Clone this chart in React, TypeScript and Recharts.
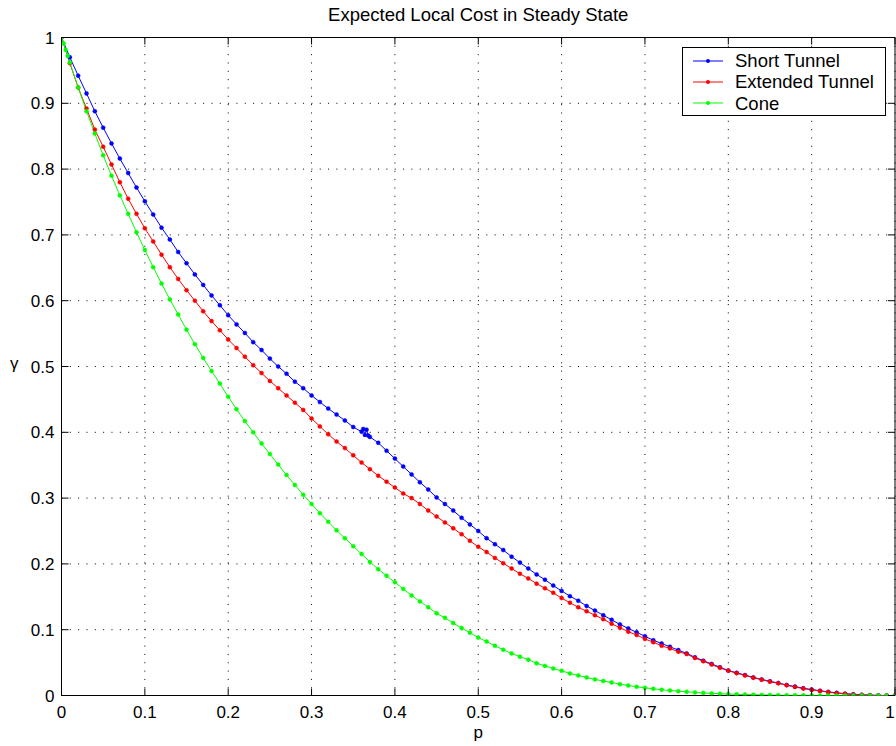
import React from 'react';
import { LineChart, Line, XAxis, YAxis, CartesianGrid, ReferenceArea } from 'recharts';

const BLUE = '#0000FF';
const RED = '#FF0000';
const GREEN = '#00FF00';
const FONT = '"Liberation Sans", Arial, Helvetica, sans-serif';

// p sample points (shared by all three series)
const P = [
  0, 0.01, 0.02, 0.03, 0.04, 0.05, 0.06, 0.07, 0.08, 0.09,
  0.1, 0.11, 0.12, 0.13, 0.14, 0.15, 0.16, 0.17, 0.18, 0.19,
  0.2, 0.21, 0.22, 0.23, 0.24, 0.25, 0.26, 0.27, 0.28, 0.29,
  0.3, 0.31, 0.32, 0.33, 0.34, 0.35, 0.36, 0.37, 0.38, 0.39,
  0.4, 0.41, 0.42, 0.43, 0.44, 0.45, 0.46, 0.47, 0.48, 0.49,
  0.5, 0.51, 0.52, 0.53, 0.54, 0.55, 0.56, 0.57, 0.58, 0.59,
  0.6, 0.61, 0.62, 0.63, 0.64, 0.65, 0.66, 0.67, 0.68, 0.69,
  0.7, 0.71, 0.72, 0.73, 0.74, 0.75, 0.76, 0.77, 0.78, 0.79,
  0.8, 0.81, 0.82, 0.83, 0.84, 0.85, 0.86, 0.87, 0.88, 0.89,
  0.9, 0.91, 0.92, 0.93, 0.94, 0.95, 0.96, 0.97, 0.98, 0.99, 1,
];

const SHORT_TUNNEL = [
  1.0, 0.970, 0.942, 0.915, 0.888, 0.863, 0.839, 0.816, 0.794, 0.772,
  0.751, 0.731, 0.711, 0.693, 0.674, 0.657, 0.640, 0.624, 0.608, 0.593,
  0.578, 0.564, 0.551, 0.537, 0.525, 0.512, 0.500, 0.489, 0.477, 0.467,
  0.456, 0.446, 0.436, 0.427, 0.418, 0.408, 0.401, 0.393, 0.384, 0.372,
  0.360, 0.348, 0.336, 0.324, 0.313, 0.301, 0.291, 0.281, 0.270, 0.260,
  0.250, 0.239, 0.230, 0.221, 0.211, 0.202, 0.193, 0.184, 0.176, 0.167,
  0.159, 0.151, 0.144, 0.136, 0.129, 0.122, 0.115, 0.108, 0.102, 0.096,
  0.090, 0.084, 0.079, 0.074, 0.069, 0.064, 0.058, 0.053, 0.048, 0.043,
  0.038, 0.0345, 0.031, 0.0275, 0.0245, 0.0215, 0.019, 0.016, 0.0135, 0.011,
  0.009, 0.0072, 0.0055, 0.004, 0.0028, 0.0018, 0.001, 0.0005, 0.0002, 0.0001, 0,
];

// small glitch in the short tunnel curve near p = 0.365
const SHORT_GLITCH_P = [0.362, 0.364, 0.366, 0.368];
const SHORT_GLITCH = [0.405, 0.396, 0.404, 0.395];

const EXTENDED_TUNNEL = [
  1.0, 0.961, 0.924, 0.892, 0.860, 0.834, 0.807, 0.780, 0.755, 0.732,
  0.710, 0.690, 0.670, 0.651, 0.633, 0.616, 0.600, 0.584, 0.569, 0.555,
  0.541, 0.528, 0.515, 0.502, 0.490, 0.478, 0.467, 0.456, 0.445, 0.434,
  0.421, 0.409, 0.397, 0.386, 0.376, 0.365, 0.354, 0.344, 0.334, 0.325,
  0.316, 0.307, 0.300, 0.291, 0.281, 0.272, 0.263, 0.254, 0.245, 0.235,
  0.226, 0.218, 0.209, 0.201, 0.193, 0.185, 0.178, 0.170, 0.163, 0.156,
  0.148, 0.141, 0.134, 0.128, 0.122, 0.116, 0.109, 0.103, 0.097, 0.092,
  0.086, 0.081, 0.0755, 0.0715, 0.0665, 0.063, 0.057, 0.052, 0.047, 0.042,
  0.0375, 0.034, 0.0305, 0.027, 0.024, 0.021, 0.0185, 0.0155, 0.013, 0.0105,
  0.0085, 0.007, 0.005, 0.0035, 0.0025, 0.0015, 0.0008, 0.0004, 0.0001, 0, 0,
];

const CONE = [
  1.0, 0.962, 0.924, 0.888, 0.854, 0.821, 0.790, 0.760, 0.732, 0.704,
  0.677, 0.651, 0.626, 0.602, 0.579, 0.556, 0.534, 0.513, 0.493, 0.474,
  0.454, 0.435, 0.417, 0.400, 0.383, 0.367, 0.351, 0.335, 0.320, 0.305,
  0.291, 0.277, 0.264, 0.251, 0.239, 0.227, 0.215, 0.203, 0.192, 0.182,
  0.172, 0.162, 0.152, 0.143, 0.134, 0.125, 0.118, 0.110, 0.1025, 0.0955,
  0.088, 0.082, 0.0755, 0.0695, 0.064, 0.059, 0.0545, 0.049, 0.045, 0.041,
  0.0375, 0.0335, 0.0305, 0.0275, 0.0245, 0.022, 0.0198, 0.0172, 0.0152, 0.0132,
  0.0117, 0.0102, 0.0088, 0.0076, 0.0066, 0.0056, 0.0047, 0.0039, 0.0032, 0.0027,
  0.0022, 0.0018, 0.0015, 0.0012, 0.0009, 0.0007, 0.0005, 0.0004, 0.0003, 0.0002,
  0.0002, 0.0001, 0.0001, 0, 0, 0, 0, 0, 0, 0, 0,
];

// denser samples at the start of the cone curve
const CONE_START_P = [0.0025, 0.005, 0.0075];
const CONE_START = [0.991, 0.981, 0.972];

const TICKS = [0, 0.1, 0.2, 0.3, 0.4, 0.5, 0.6, 0.7, 0.8, 0.9, 1];

const SERIES_NAMES = ['Short Tunnel', 'Extended Tunnel', 'Cone'];
const SERIES_COLORS = [BLUE, RED, GREEN];

// plot box (chart pixels)
const W = 896;
const H = 746;
const PLOT_LEFT = 61.5;
const PLOT_RIGHT = 895;
const PLOT_TOP = 37.5;
const PLOT_BOTTOM = 695.5;
const Y_AXIS_W = 40;
const X_AXIS_H = 30;
const TICK_LEN = 7;

const build = (ps: number[], vals: number[]) => ps.map((p, i) => ({ p, g: vals[i] }));
const merge = (a: { p: number; g: number }[], b: { p: number; g: number }[]) =>
  [...a, ...b].sort((u, v) => u.p - v.p);

const shortData = merge(build(P, SHORT_TUNNEL), build(SHORT_GLITCH_P, SHORT_GLITCH));
const extData = build(P, EXTENDED_TUNNEL);
const coneData = merge(build(P, CONE), build(CONE_START_P, CONE_START));
const seriesData = [shortData, extData, coneData];

const XTick = (props: any) => {
  const { x, payload } = props;
  // keep the last label inside the picture
  const tx = Math.min(x, W - 6);
  return (
    <g>
      <line x1={x} x2={x} y1={PLOT_BOTTOM} y2={PLOT_BOTTOM - TICK_LEN} stroke="#000" />
      <line x1={x} x2={x} y1={PLOT_TOP} y2={PLOT_TOP + TICK_LEN} stroke="#000" />
      <text x={tx} y={PLOT_BOTTOM + 22.5} textAnchor="middle" fontSize={17} fontFamily={FONT} fill="#000">
        {String(payload.value)}
      </text>
    </g>
  );
};

const YTick = (props: any) => {
  const { y, payload } = props;
  return (
    <g>
      <line x1={PLOT_LEFT} x2={PLOT_LEFT + TICK_LEN} y1={y} y2={y} stroke="#000" />
      <line x1={PLOT_RIGHT} x2={PLOT_RIGHT - TICK_LEN} y1={y} y2={y} stroke="#000" />
      <text x={54.5} y={y + 6} textAnchor="end" fontSize={17} fontFamily={FONT} fill="#000">
        {String(payload.value)}
      </text>
    </g>
  );
};

export default function App() {
  return (
    <div style={{ position: 'absolute', left: 0, top: 0, width: W, height: H, background: '#fff', fontFamily: FONT }}>
      <LineChart
        width={W}
        height={H}
        margin={{
          top: PLOT_TOP,
          right: W - PLOT_RIGHT,
          left: PLOT_LEFT - Y_AXIS_W,
          bottom: H - PLOT_BOTTOM - X_AXIS_H,
        }}
      >
        <CartesianGrid stroke="#000" strokeWidth={1} strokeDasharray="1 7.33" />
        <XAxis
          dataKey="p"
          type="number"
          domain={[0, 1]}
          ticks={TICKS}
          height={X_AXIS_H}
          axisLine={false}
          tickLine={false}
          tick={<XTick />}
          interval={0}
          allowDataOverflow
        />
        <YAxis
          dataKey="g"
          type="number"
          domain={[0, 1]}
          ticks={TICKS}
          width={Y_AXIS_W}
          axisLine={false}
          tickLine={false}
          tick={<YTick />}
          interval={0}
          allowDataOverflow
        />
        <ReferenceArea x1={0} x2={1} y1={0} y2={1} fill="none" fillOpacity={0} stroke="#000" strokeWidth={1} />
        {seriesData.map((data, i) => (
          <Line
            key={SERIES_NAMES[i]}
            data={data}
            dataKey="g"
            type="linear"
            stroke={SERIES_COLORS[i]}
            strokeWidth={1}
            dot={{ r: 2, fill: SERIES_COLORS[i], stroke: SERIES_COLORS[i], strokeWidth: 0.5 }}
            isAnimationActive={false}
          />
        ))}
      </LineChart>

      {/* title and axis labels */}
      <div style={{ position: 'absolute', left: PLOT_LEFT, width: PLOT_RIGHT - PLOT_LEFT, top: 6, textAlign: 'center', fontSize: 18.5, lineHeight: '18px' }}>
        Expected Local Cost in Steady State
      </div>
      <div style={{ position: 'absolute', left: PLOT_LEFT, width: PLOT_RIGHT - PLOT_LEFT, top: 724, textAlign: 'center', fontSize: 17, lineHeight: '18px' }}>
        p
      </div>
      <div style={{ position: 'absolute', left: 10, top: 355, fontSize: 17, lineHeight: '18px' }}>γ</div>

      {/* legend */}
      <div
        style={{
          position: 'absolute', left: 682, top: 47, width: 202, padding: '2px 0 1px 0',
          border: '1px solid #000', background: '#fff', fontSize: 18.5,
        }}
      >
        {SERIES_NAMES.map((name, i) => (
          <div key={name} style={{ display: 'flex', alignItems: 'center', height: 21.3, lineHeight: '21px' }}>
            <svg width={30} height={10} style={{ marginLeft: 10 }}>
              <line x1={0} x2={30} y1={5} y2={5} stroke={SERIES_COLORS[i]} strokeWidth={1} />
              <circle cx={15} cy={5} r={2} fill={SERIES_COLORS[i]} />
            </svg>
            <span style={{ marginLeft: 12 }}>{name}</span>
          </div>
        ))}
      </div>
    </div>
  );
}
